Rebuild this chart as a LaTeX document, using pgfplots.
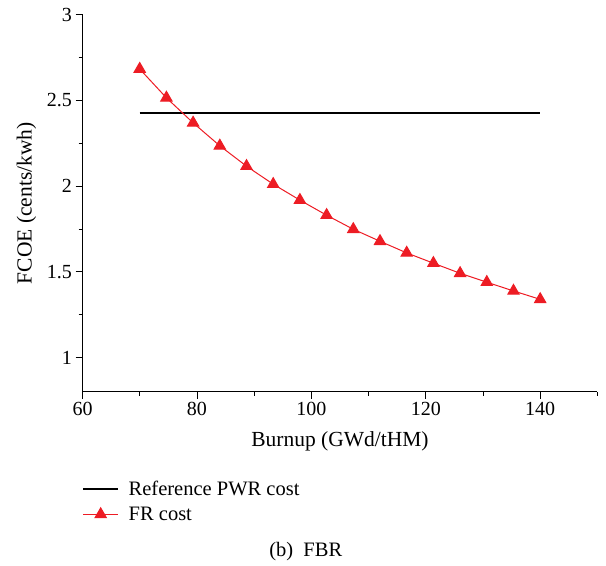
\documentclass[border=0pt]{standalone}
\usepackage{fontspec}
\setmainfont{Liberation Serif}
\usepackage{pgfplots}
\pgfplotsset{compat=1.18}
\definecolor{frred}{RGB}{237,28,36}
\begin{document}
\begin{tikzpicture}
\begin{axis}[
  scale only axis, width=514.9pt, height=377pt,
  xmin=60, xmax=150, ymin=0.8, ymax=3,
  axis x line*=bottom, axis y line*=left,
  xtick={60,80,...,140}, minor xtick={70,90,...,150},
  ytick={1,1.5,2,2.5,3}, minor ytick={1.25,1.75,2.25,2.75},
  tick align=outside, major tick length=7pt, minor tick length=4pt,
  every tick/.style={black, line width=0.8pt},
  axis line style={line width=0.9pt},
  /pgf/number format/assume math mode=true,
  ticklabel style={font=\fontsize{20}{22}\selectfont},
  xlabel={Burnup (GWd/tHM)}, ylabel={FCOE (cents/kwh)},
  label style={font=\fontsize{21.5}{24}\selectfont},
  xlabel shift=9pt, ylabel shift=4pt,
  legend style={draw=none, fill=none, at={(axis description cs:0,-0.231)}, anchor=north west,
    font=\fontsize{20.5}{24}\selectfont, inner sep=0pt, row sep=6pt, column sep=8pt},
  legend cell align=left,
  legend image code/.code={\draw[mark repeat=2, mark phase=2, #1] plot coordinates {(0pt,0pt) (17.3pt,0pt) (34.6pt,0pt)};},
]
\addplot[black, line width=1.4pt] coordinates {(70,2.426) (140,2.426)};
\addlegendentry{Reference PWR cost}
\addplot[frred, line width=1pt, mark=triangle*, mark size=6.5pt, mark options={solid}] coordinates {
(70.000,2.683) (74.667,2.515) (79.333,2.369) (84.000,2.235) (88.667,2.116)
(93.333,2.011) (98.000,1.918) (102.667,1.830) (107.333,1.748) (112.000,1.678)
(116.667,1.610) (121.333,1.550) (126.000,1.491) (130.667,1.439) (135.333,1.388)
(140.000,1.339)};
\addlegendentry{FR cost}
\coordinate (ll) at (rel axis cs:0,0);
\coordinate (ur) at (rel axis cs:1,1);
\end{axis}
\node[font=\fontsize{20.5}{24}\selectfont] at ([shift={(223.3pt,-160pt)}]ll) {(b)\ \ FBR};
\pgfresetboundingbox
\path ([shift={(-82.5pt,-173.3pt)}]ll) rectangle ([shift={(8.6pt,14.7pt)}]ur);
\end{tikzpicture}
\end{document}
